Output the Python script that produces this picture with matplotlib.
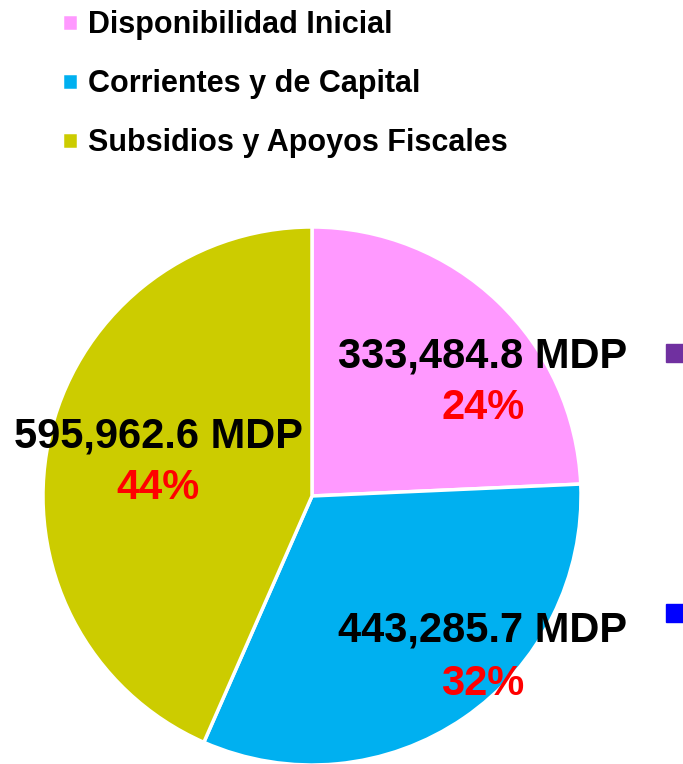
import matplotlib
matplotlib.use("Agg")
import matplotlib.pyplot as plt
from matplotlib.lines import Line2D

# data
categories = ["Disponibilidad Inicial", "Corrientes y de Capital", "Subsidios y Apoyos Fiscales"]
values = [333484.8, 443285.7, 595962.6]
percents = ["24%", "32%", "44%"]
colors = ["#FF99FF", "#00B0F0", "#CCCC00"]
extra_colors = ["#7030A0", "#0000FF"]

plt.rcParams['font.family'] = ['Liberation Sans', 'DejaVu Sans']

fig = plt.figure(figsize=(6.83, 7.64), dpi=100)
W, H = 683, 764
cx, cy, r = 312, 496, 269
ax = fig.add_axes([(cx - r) / W, (H - cy - r) / H, 2 * r / W, 2 * r / H])

wedges, _ = ax.pie(values, colors=colors, startangle=90, counterclock=False,
                   radius=1, wedgeprops=dict(edgecolor='white', linewidth=2.5))
ax.set_xlim(-1, 1)
ax.set_ylim(-1, 1)
ax.set_aspect('equal')
ax.axis('off')

# value labels (pixel positions in the reference, converted to data units)
label_pos = [(483, 356, 408), (483, 631, 684), (158, 436, 488)]
for (px, py1, py2), v, p in zip(label_pos, values, percents):
    ax.text((px - cx) / r, (cy - py1) / r, f"{v:,.1f} MDP", ha='center', va='center',
            fontsize=30, fontweight='bold', color='black')
    ax.text((px - cx) / r, (cy - py2) / r, p, ha='center', va='center',
            fontsize=30, fontweight='bold', color='#FF0000')

fig.legend(wedges, categories, loc='upper left', bbox_to_anchor=(50 / W, 1 + 2 / H),
           frameon=False, prop=dict(weight='bold', size=22),
           handlelength=0.5, handleheight=0.5, handletextpad=0.35,
           labelspacing=0.95, borderaxespad=0)

# cut-off legend markers on the right edge
extra = [Line2D([], [], marker='s', linestyle='', color=c, markersize=13) for c in extra_colors]
fig.legend(extra, [" ", " "], loc='upper left', bbox_to_anchor=(650 / W, 1 - 332 / H),
           frameon=False, prop=dict(size=20), handlelength=1.0,
           labelspacing=8.42, borderaxespad=0)

fig.savefig("out.png", dpi=100)
